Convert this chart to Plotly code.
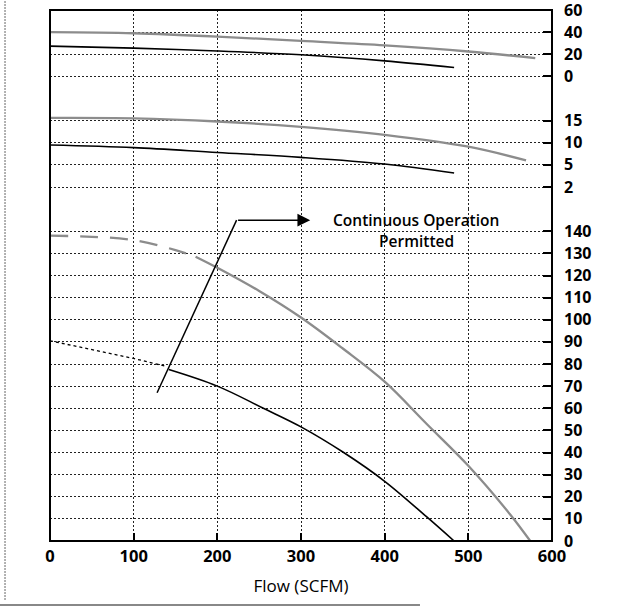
import numpy as np
import plotly.graph_objects as go

# flow axis (SCFM)
flow_ticks = [0, 100, 200, 300, 400, 500, 600]

# top panel (-20..60)
top_ticks = [-20, 0, 20, 40, 60]
top_labels = ["", "0", "20", "40", "60"]
top_gray_x = [0, 100, 200, 300, 400, 500, 580]
top_gray_y = [40, 39, 36, 32, 28, 22.5, 16.5]
top_black_x = [0, 100, 200, 300, 400, 483]
top_black_y = [27.3, 25.5, 23, 19.5, 14, 8]

# middle panel, labels evenly spaced but not linear
mid_ticks = [0, 2, 5, 10, 15, 20]
mid_labels = ["", "2", "5", "10", "15", ""]
mid_gray_x = [0, 100, 200, 300, 400, 500, 569]
mid_gray_y = [15.6, 15.5, 14.8, 13.6, 11.8, 9.1, 6.0]
mid_black_x = [0, 100, 200, 300, 400, 483]
mid_black_y = [9.5, 8.9, 7.8, 6.7, 5.2, 3.9]

# bottom panel (0..140)
bot_ticks = list(range(0, 160, 10))
bot_labels = [str(v) for v in range(0, 150, 10)] + [""]
gray_dash_x = [0, 50, 100, 150, 174]
gray_dash_y = [138, 137.5, 136, 131.5, 128.5]
gray_x = [174, 200, 250, 300, 350, 400, 450, 500, 550, 574]
gray_y = [128.5, 123.5, 113, 101, 87, 72, 53, 34, 12, 0]
black_dot_x = [0, 50, 100, 138]
black_dot_y = [90.5, 86.5, 82.5, 79]
black_x = [142, 200, 255, 300, 351, 400, 450, 483]
black_y = [77.5, 70, 60, 51.6, 40, 27, 11, 0]

# arrow note
note_x = [128, 223, 311]
note_y = [67, 145, 145]

GRAY = "#8c8c8c"
FONT = "Open Sans"


def mid_pos(v):
    return np.interp(v, mid_ticks, range(len(mid_ticks)))


fig = go.Figure()

fig.add_trace(go.Scatter(x=top_gray_x, y=top_gray_y, yaxis="y3", mode="lines",
                         line=dict(color=GRAY, width=2.3, shape="spline")))
fig.add_trace(go.Scatter(x=top_black_x, y=top_black_y, yaxis="y3", mode="lines",
                         line=dict(color="black", width=1.6, shape="spline")))

fig.add_trace(go.Scatter(x=mid_gray_x, y=mid_pos(mid_gray_y), yaxis="y2", mode="lines",
                         line=dict(color=GRAY, width=2.3, shape="spline")))
fig.add_trace(go.Scatter(x=mid_black_x, y=mid_pos(mid_black_y), yaxis="y2", mode="lines",
                         line=dict(color="black", width=1.6, shape="spline")))

fig.add_trace(go.Scatter(x=gray_dash_x, y=gray_dash_y, mode="lines",
                         line=dict(color=GRAY, width=2.3, dash="18px,12px", shape="spline")))
fig.add_trace(go.Scatter(x=gray_x, y=gray_y, mode="lines",
                         line=dict(color=GRAY, width=2.3, shape="spline")))
fig.add_trace(go.Scatter(x=black_dot_x, y=black_dot_y, mode="lines",
                         line=dict(color="black", width=1.3, dash="3px,3px")))
fig.add_trace(go.Scatter(x=black_x, y=black_y, mode="lines",
                         line=dict(color="black", width=1.6, shape="spline")))

fig.add_trace(go.Scatter(x=note_x[:2], y=note_y[:2], mode="lines",
                         line=dict(color="black", width=1.5)))
fig.add_annotation(x=note_x[2], y=note_y[2], ax=note_x[1], ay=note_y[1],
                   xref="x", yref="y", axref="x", ayref="y", text="",
                   showarrow=True, arrowhead=2, arrowsize=1.7, arrowwidth=1.5,
                   arrowcolor="black")
fig.add_annotation(x=437, y=145, xref="x", yref="y", text="Continuous Operation",
                   showarrow=False,
                   font=dict(family=FONT, size=15.5, color="black", weight=600))
fig.add_annotation(x=438, y=135.6, xref="x", yref="y", text="Permitted",
                   showarrow=False,
                   font=dict(family=FONT, size=15.5, color="black", weight=600))

grid = dict(showgrid=True, gridcolor="#222", gridwidth=1, griddash="2px,2px",
            zeroline=False, side="right", ticks="inside", ticklen=9,
            tickcolor="black", tickwidth=1.6, ticklabelstandoff=11,
            ticklabeloverflow="allow", automargin=False,
            tickfont=dict(family=FONT, size=16, color="black", weight="bold"))

fig.update_layout(
    width=617, height=607,
    margin=dict(l=50, r=65, t=10, b=66),
    paper_bgcolor="white", plot_bgcolor="white",
    showlegend=False,
    xaxis=dict(range=[0, 600], tickvals=flow_ticks, showgrid=True, gridcolor="#222",
               gridwidth=1, griddash="2px,2px", zeroline=False, ticks="inside",
               ticklen=8, tickcolor="black", tickwidth=1.6, ticklabelstandoff=3,
               automargin=False,
               tickfont=dict(family=FONT, size=16.5, color="black", weight="bold"),
               title=dict(text="Flow (SCFM)", standoff=14,
                          font=dict(family=FONT, size=17, color="black"))),
    yaxis=dict(domain=[0, 15 / 24], range=[0, 150], tickvals=bot_ticks,
               ticktext=bot_labels, anchor="x", **grid),
    yaxis2=dict(domain=[15 / 24, 20 / 24], range=[0, 5],
                tickvals=list(range(len(mid_ticks))), ticktext=mid_labels,
                anchor="x", **grid),
    yaxis3=dict(domain=[20 / 24, 1], range=[-20, 60], tickvals=top_ticks,
                ticktext=top_labels, anchor="x", **grid),
)

# plot frame and scan edges
fig.add_shape(type="rect", xref="paper", yref="paper", x0=0, x1=1, y0=0, y1=1,
              line=dict(color="black", width=2))
fig.add_shape(type="line", xref="paper", yref="paper", x0=-0.0896, x1=-0.0896,
              y0=-0.111, y1=1.019, line=dict(color="#999", width=1.5, dash="2px,1px"))
fig.add_shape(type="line", xref="paper", yref="paper", x0=-0.0996, x1=0.737,
              y0=-0.1205, y1=-0.1205, line=dict(color="#888", width=2))

# drop the default page margin so the figure sits at the window corner
fig.write_html("out.html", config={"displayModeBar": False},
               post_script="document.body.style.margin='0';")
